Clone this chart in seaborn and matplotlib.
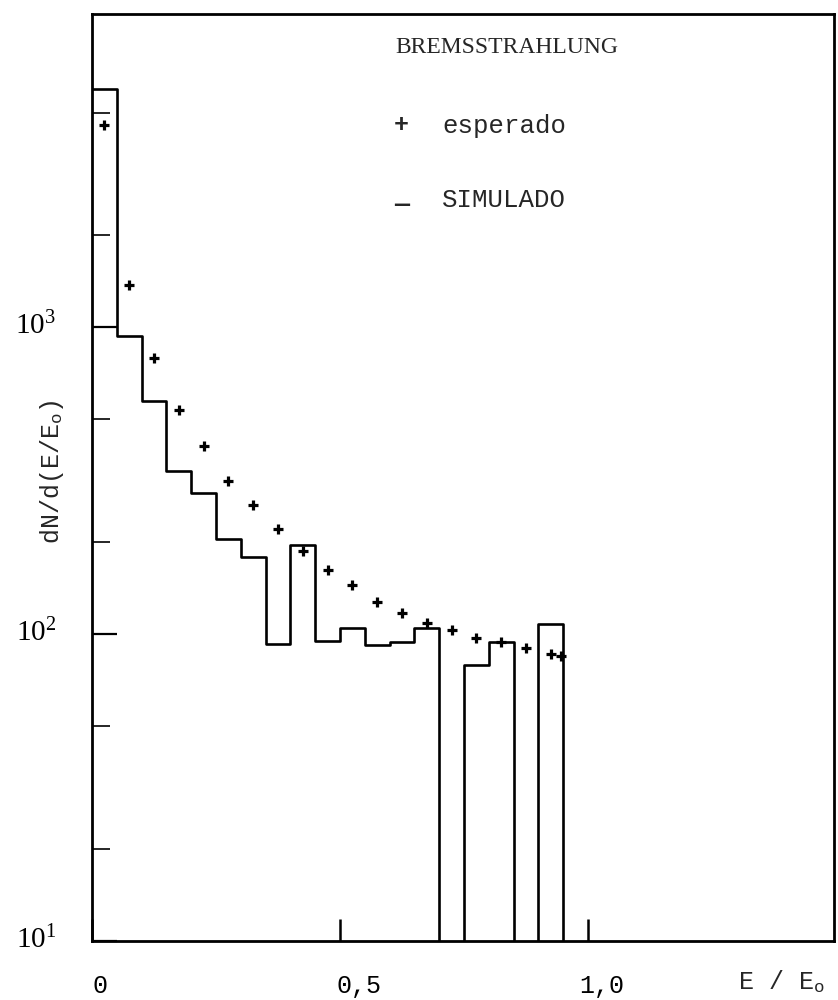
import numpy as np
import matplotlib
matplotlib.use("Agg")
import matplotlib.pyplot as plt
import seaborn as sns
from matplotlib.ticker import LogLocator, NullLocator, NullFormatter
from matplotlib.transforms import ScaledTranslation

# Simulated bremsstrahlung spectrum: counts in 0.05-wide bins of E/E0
bin_edges = [0.00, 0.05, 0.10, 0.15, 0.20, 0.25, 0.30, 0.35, 0.40, 0.45,
             0.50, 0.55, 0.60, 0.65, 0.70, 0.75, 0.80, 0.85, 0.90, 0.95]
simulated = [5960, 935, 574, 340, 287, 204, 178, 93, 195, 95,
             105, 92, 94, 105, 0, 79, 94, 0, 108]

# Expected spectrum (points)
expected_x = [0.025, 0.075, 0.125, 0.175, 0.225, 0.275, 0.325, 0.375, 0.425, 0.475,
              0.525, 0.575, 0.625, 0.675, 0.725, 0.775, 0.825, 0.875, 0.925, 0.945]
expected = [4550, 1370, 791, 537, 410, 315, 263, 220, 187, 162,
            144, 127, 117, 109, 103, 97, 94, 90, 86, 85]

y_ticks = [10, 100, 1000]
y_labels = [r"$10^{1}$", r"$10^{2}$", r"$10^{3}$"]
x_ticks = [0.0, 0.5, 1.0]
x_labels = ["0", "0,5", "1,0"]

sns.set_style("white")
plt.rcParams["font.family"] = ["Liberation Mono", "DejaVu Sans"]
plt.rcParams["mathtext.fontset"] = "custom"
plt.rcParams["mathtext.rm"] = "Liberation Serif"
plt.rcParams["mathtext.it"] = "Liberation Serif:italic"
plt.rcParams["mathtext.tt"] = "Liberation Mono"

W, H = 838, 1000
fig = plt.figure(figsize=(W / 100, H / 100), dpi=100)
ax = fig.add_axes([92 / W, 59 / H, 742 / W, 927 / H])

# histogram outline as a step line (closing drop to zero after the last bin)
step_y = simulated + [0]
sns.lineplot(x=bin_edges, y=step_y, drawstyle="steps-post", estimator=None,
             color="black", linewidth=1.9, ax=ax)
sns.scatterplot(x=expected_x, y=expected, marker="+", s=42, color="black",
                linewidth=2.3, ax=ax, zorder=3)

ax.set_yscale("log")
ax.set_xlim(0, 1.496)
ax.set_ylim(10, 10 ** 4.02)

for side in ["left", "right", "top", "bottom"]:
    ax.spines[side].set_visible(True)
    ax.spines[side].set_color("black")
    ax.spines[side].set_linewidth(2.0)

ax.set_yticks(y_ticks, labels=y_labels)
ax.yaxis.set_minor_locator(LogLocator(base=10, subs=[2.0, 5.0]))
ax.yaxis.set_minor_formatter(NullFormatter())
ax.set_xticks(x_ticks, labels=x_labels)
ax.xaxis.set_minor_locator(NullLocator())

ax.tick_params(axis="y", which="major", direction="in", length=18, width=1.6,
               pad=26, labelsize=21, left=True, right=False, colors="black")
ax.tick_params(axis="y", which="minor", direction="in", length=13, width=1.4,
               left=True, right=False)
ax.tick_params(axis="x", which="major", direction="in", length=16, width=1.8,
               pad=24, labelsize=18, bottom=True, top=False, colors="black")

for lab, dx in zip(ax.get_xticklabels(), [8, 19, 14]):
    lab.set_fontfamily("Liberation Mono")
    lab.set_transform(lab.get_transform() + ScaledTranslation(dx / 100, 0, fig.dpi_scale_trans))

for lab in ax.get_yticklabels():
    lab.set_transform(lab.get_transform() + ScaledTranslation(0, 4 / 100, fig.dpi_scale_trans))

ax.set_xlabel("")
ax.set_ylabel("")

# axis titles
fig.text(52 / W, 1 - 472 / H, r"dN/d(E/E$_{\mathtt{o}}$)", rotation=90,
         ha="center", va="center", family="Liberation Mono", size=18)
fig.text(738 / W, 1 - 982 / H, r"E / E$_{\mathtt{o}}$", ha="left", va="center",
         family="Liberation Mono", size=18)

# key
fig.text(395 / W, 1 - 53 / H, "BREMSSTRAHLUNG", ha="left", va="baseline",
         family="Liberation Serif", size=17)
fig.text(401 / W, 1 - 125 / H, "+", ha="center", va="center",
         family="Liberation Mono", size=18, weight="bold")
fig.text(442 / W, 1 - 133 / H, "esperado", ha="left", va="baseline",
         family="Liberation Mono", size=18.5)
fig.text(402 / W, 1 - 204 / H, "\u2014", ha="center", va="center",
         family="Liberation Mono", size=18, weight="bold")
fig.text(442 / W, 1 - 207 / H, "SIMULADO", ha="left", va="baseline",
         family="Liberation Mono", size=18.5)

fig.savefig("out.png", dpi=100, facecolor="white")
